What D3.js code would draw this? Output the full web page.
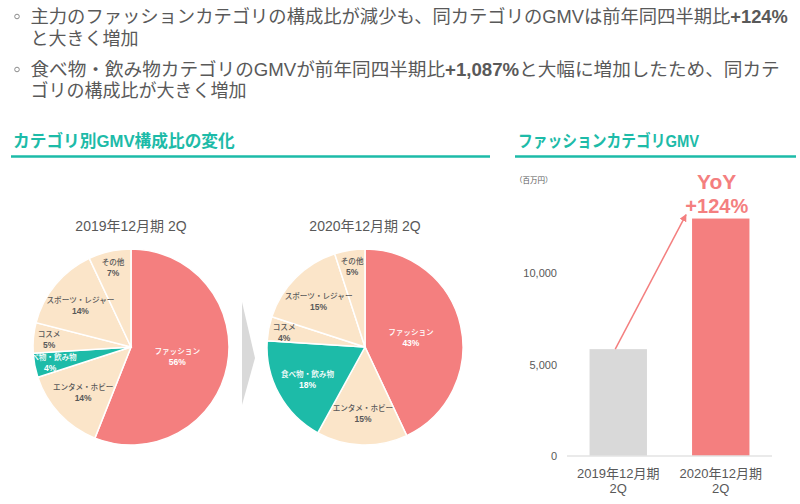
<!DOCTYPE html>
<html><head><meta charset="utf-8">
<script src="https://cdn.jsdelivr.net/npm/d3@7"></script>
<style>
body{margin:0;background:#fff}
svg{display:block}
text{font-family:"Liberation Sans","Noto Sans CJK JP",sans-serif}
</style>
</head><body>
<svg id="c" width="800" height="504"></svg>
<script>
// ---------- data ----------
const bulletLines = [
  [{t:"主力のファッションカテゴリの構成比が減少も、同カテゴリのGMVは前年同四半期比"},{t:"+124%",b:true}],
  [{t:"と大きく増加"}],
  [{t:"食べ物・飲み物カテゴリのGMVが前年同四半期比"},{t:"+1,087%",b:true},{t:"と大幅に増加したため、同カテ"}],
  [{t:"ゴリの構成比が大きく増加"}]
];
const sectionTitles = ["カテゴリ別GMV構成比の変化","ファッションカテゴリGMV"];
const pieCategories = ["ファッション","エンタメ・ホビー","食べ物・飲み物","コスメ","スポーツ・レジャー","その他"];
const share2019 = [56,14,4,5,14,7];
const share2020 = [43,15,18,4,15,5];
const pieTitles = ["2019年12月期 2Q","2020年12月期 2Q"];
const barCategories = ["2019年12月期\n2Q","2020年12月期\n2Q"];
const fashionGMV = [5850,13000];
const yTicks = [0,5000,10000];
const unitLabel = "（百万円）";
const yoyLabel = ["YoY","+124%"];

// ---------- style ----------
const TEAL="#1dbba8", SALMON="#f47f7f", BEIGE="#fbe5c9", GRAY="#d9d9d9", TXT="#595959";
const catColor = c => c==="ファッション"?SALMON : c==="食べ物・飲み物"?TEAL : BEIGE;
const catText = c => (c==="ファッション"||c==="食べ物・飲み物")?"#fff":TXT;

const svg = d3.select("#c");

function fit(sel, x, y, w){
  const bw = sel.node().getBBox().width;
  sel.attr("x",0).attr("y",0).attr("transform",`translate(${x},${y}) scale(${w/bw},1)`);
}

// ---------- bullets ----------
const bulletY = [23,44.5,76,97];
const bulletFit = [758,null,750,null];
bulletLines.forEach((segs,i)=>{
  const t = svg.append("text").attr("font-size",18).attr("fill",TXT);
  segs.forEach(s=>t.append("tspan").text(s.t).attr("font-weight",s.b?"bold":"normal"));
  if(bulletFit[i]) fit(t,30.5,bulletY[i],bulletFit[i]);
  else t.attr("x",30.5).attr("y",bulletY[i]);
  if(i===0||i===2){
    svg.append("circle").attr("cx",17).attr("cy",bulletY[i]-6.5).attr("r",2.3)
      .attr("fill","none").attr("stroke","#8c8c8c").attr("stroke-width",1);
  }
});

// ---------- section titles ----------
const secX=[13,518], secW=[222,182], ulX=[[11,490],[515,796]];
sectionTitles.forEach((s,i)=>{
  const t=svg.append("text").text(s).attr("font-size",17).attr("font-weight","bold").attr("fill",TEAL);
  fit(t,secX[i],147,secW[i]);
  svg.append("line").attr("x1",ulX[i][0]).attr("x2",ulX[i][1]).attr("y1",156.5).attr("y2",156.5)
    .attr("stroke",TEAL).attr("stroke-width",2.5);
});

// ---------- pies ----------
const R=98, pieCenters=[[131,347],[365,347]];
const pie=d3.pie().sort(null).value(d=>d.v);
const arc=d3.arc().innerRadius(0).outerRadius(R);
[share2019,share2020].forEach((vals,pi)=>{
  const [cx,cy]=pieCenters[pi];
  const g=svg.append("g").attr("transform",`translate(${cx},${cy})`);
  const data=pie(vals.map((v,i)=>({c:pieCategories[i],v})));
  g.selectAll("path").data(data).join("path")
    .attr("d",arc).attr("fill",d=>catColor(d.data.c))
    .attr("stroke","#fff").attr("stroke-width",1.5);
  const maxV=d3.max(vals);
  data.forEach(d=>{
    const f = d.data.v<=7?0.84:(d.data.v===maxV?0.48:0.67);
    const la=d3.arc().innerRadius(R*f).outerRadius(R*f);
    const [lx,ly]=la.centroid(d);
    g.append("text").text(d.data.c).attr("x",lx).attr("y",ly-2)
      .attr("text-anchor","middle").attr("font-size",7.6).attr("font-weight",500).attr("fill",catText(d.data.c));
    g.append("text").text(d.data.v+"%").attr("x",lx).attr("y",ly+9)
      .attr("text-anchor","middle").attr("font-size",8.5).attr("font-weight","bold").attr("fill",catText(d.data.c));
  });
  svg.append("text").text(pieTitles[pi]).attr("x",cx).attr("y",231)
    .attr("text-anchor","middle").attr("font-size",14).attr("fill",TXT);
});
// chevron between pies
{
  const mx=(pieCenters[0][0]+R+pieCenters[1][0]-R)/2, cy=pieCenters[0][1];
  svg.append("path").attr("d",`M${mx-6},${cy-45} L${mx+7},${cy+11} L${mx-6},${cy+58} Z`).attr("fill",GRAY);
}

// ---------- bar chart ----------
const x=d3.scaleBand().domain(barCategories).range([567,772]).paddingInner(0.44).paddingOuter(0.22);
const y=d3.scaleLinear().domain([0,14000]).range([456,456-14000*0.018266]);
const bg=svg.append("g");
bg.selectAll("rect").data(fashionGMV).join("rect")
  .attr("x",(d,i)=>x(barCategories[i])).attr("width",x.bandwidth())
  .attr("y",d=>y(d)).attr("height",d=>y(0)-y(d))
  .attr("fill",(d,i)=>i===0?GRAY:SALMON);
bg.append("line").attr("x1",567).attr("x2",772).attr("y1",y(0)).attr("y2",y(0))
  .attr("stroke","#e3e3e3").attr("stroke-width",1.5);
bg.selectAll(".yt").data(yTicks).join("text").attr("class","yt")
  .text(d=>d3.format(",")(d)).attr("x",557).attr("y",d=>y(d)+4)
  .attr("text-anchor","end").attr("font-size",11).attr("fill",TXT);
barCategories.forEach(c=>{
  c.split("\n").forEach((s,j)=>{
    bg.append("text").text(s).attr("x",x(c)+x.bandwidth()/2).attr("y",477.5+j*15.5)
      .attr("text-anchor","middle").attr("font-size",13).attr("fill",TXT);
  });
});
svg.append("text").text(unitLabel).attr("x",515).attr("y",183).attr("font-size",7.5).attr("fill",TXT);

// arrow
svg.append("defs").append("marker").attr("id","ah").attr("viewBox","0 0 10 10")
  .attr("refX",9).attr("refY",5).attr("markerWidth",5).attr("markerHeight",5).attr("orient","auto")
  .append("path").attr("d","M0,0 L10,5 L0,10 Z").attr("fill",SALMON);
svg.append("line")
  .attr("x1",x(barCategories[0])+x.bandwidth()/2-3).attr("y1",y(fashionGMV[0]))
  .attr("x2",x(barCategories[1])-6).attr("y2",y(fashionGMV[1])-4)
  .attr("stroke",SALMON).attr("stroke-width",1.5).attr("marker-end","url(#ah)");

const yx=x(barCategories[1])+x.bandwidth()/2-4;
svg.append("text").text(yoyLabel[0]).attr("x",yx).attr("y",y(fashionGMV[1])-29.5)
  .attr("text-anchor","middle").attr("font-size",21).attr("font-weight","bold").attr("fill",SALMON);
svg.append("text").text(yoyLabel[1]).attr("x",yx).attr("y",y(fashionGMV[1])-5.5)
  .attr("text-anchor","middle").attr("font-size",20).attr("font-weight","bold").attr("fill",SALMON);
</script>
</body></html>
